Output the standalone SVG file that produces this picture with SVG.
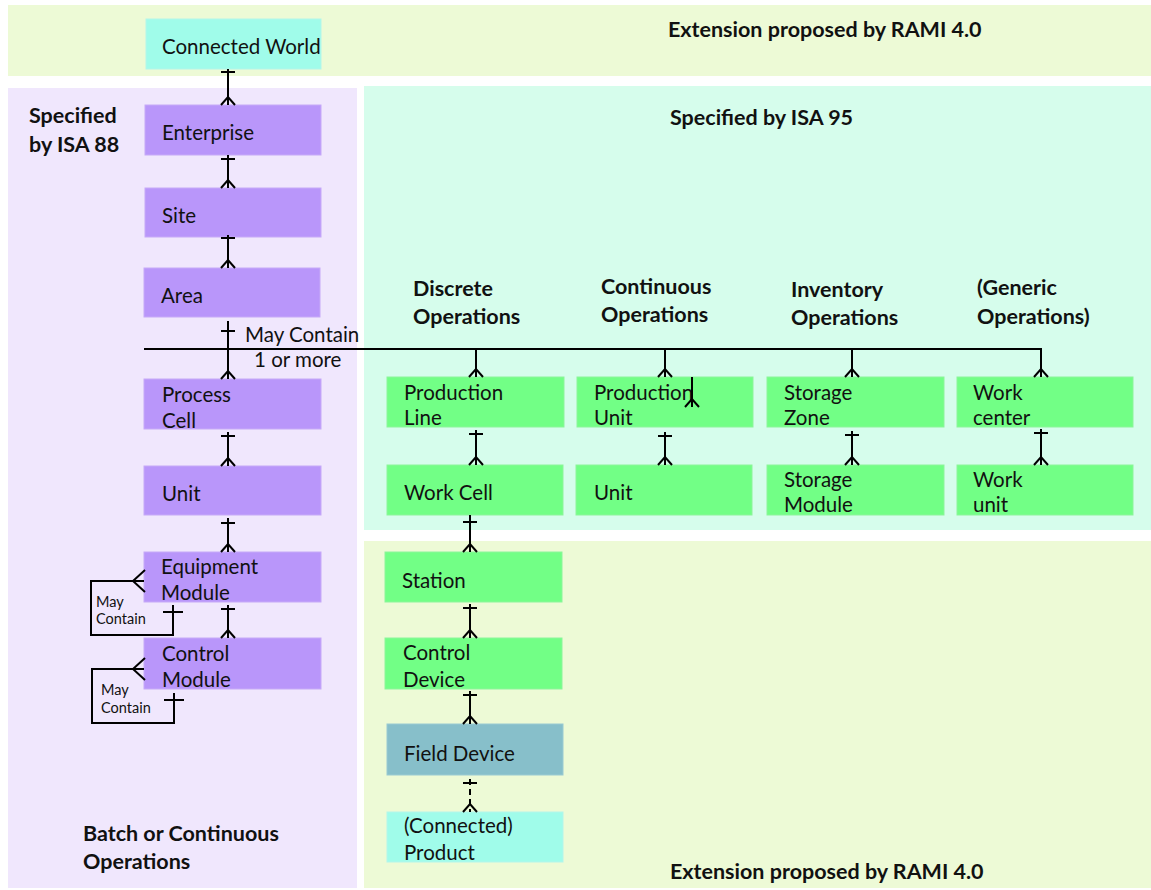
<svg xmlns="http://www.w3.org/2000/svg" width="1151" height="890" viewBox="0 0 1151 890">
  <style>
    .lbl { font-family: Lato, "Liberation Sans", sans-serif; font-size: 20.5px; fill: #111; }
    .hd { font-family: Lato, "Liberation Sans", sans-serif; font-size: 21.5px; font-weight: bold; fill: #111; }
    .sm { font-family: Lato, "Liberation Sans", sans-serif; font-size: 14.5px; fill: #111; }
    .purple { fill: #B996FA; stroke: #C6AAF8; stroke-width: 1; }
    .green { fill: #72FF86; stroke: #8CF59A; stroke-width: 1; }
    .cyan { fill: #A0FCEA; stroke: #B4F5EA; stroke-width: 1; }
    .teal { fill: #87BFCA; stroke: #9ACAD2; stroke-width: 1; }
    .ln { fill: none; stroke: #000; stroke-width: 2; }
    .dash { fill: none; stroke: #000; stroke-width: 2; stroke-dasharray: 6 4; }
  </style>
  <defs>
    <!-- crow's foot (many) opening downward, tip at y=0 -->
    <path id="foot" d="M-7,0 L0,-8 L7,0" fill="none" stroke="#000" stroke-width="2"/>
    <!-- crossbar (one) -->
    <path id="bar" d="M-7,0 H7" fill="none" stroke="#000" stroke-width="2"/>
  </defs>

  <!-- background panels -->
  <g id="panels">
    <rect x="8" y="5" width="1143" height="71" fill="#EDFAD6"/>
    <rect x="8" y="88" width="349" height="800" fill="#F0E7FD"/>
    <rect x="364" y="86" width="787" height="444" fill="#D6FDEC"/>
    <rect x="364" y="541" width="787" height="347" fill="#EDFAD6"/>
  </g>

  <!-- panel headings -->
  <g id="headings">
    <text class="hd" x="668" y="37">Extension proposed by RAMI 4.0</text>
    <text class="hd" x="670" y="125">Specified by ISA 95</text>
    <text class="hd" x="29" y="123">Specified</text>
    <text class="hd" x="29" y="152">by ISA 88</text>
    <text class="hd" x="413" y="296">Discrete</text>
    <text class="hd" x="413" y="324">Operations</text>
    <text class="hd" x="601" y="294">Continuous</text>
    <text class="hd" x="601" y="322">Operations</text>
    <text class="hd" x="791" y="297">Inventory</text>
    <text class="hd" x="791" y="325">Operations</text>
    <text class="hd" x="977" y="295">(Generic</text>
    <text class="hd" x="977" y="324">Operations)</text>
    <text class="hd" x="83" y="841">Batch or Continuous</text>
    <text class="hd" x="83" y="869">Operations</text>
    <text class="hd" x="670" y="879">Extension proposed by RAMI 4.0</text>
  </g>

  <!-- ISA 88 hierarchy -->
  <g id="connected-world"><rect class="cyan" x="146" y="19" width="175" height="50"/><text class="lbl" x="162" y="54">Connected World</text></g>
  <g id="enterprise"><rect class="purple" x="145" y="105" width="176" height="50"/><text class="lbl" x="162" y="140">Enterprise</text></g>
  <g id="site"><rect class="purple" x="145" y="188" width="176" height="49"/><text class="lbl" x="162" y="223">Site</text></g>
  <g id="area"><rect class="purple" x="144" y="268" width="176" height="49"/><text class="lbl" x="161" y="303">Area</text></g>
  <g id="process-cell"><rect class="purple" x="144" y="379" width="177" height="50"/><text class="lbl" x="162" y="402">Process</text><text class="lbl" x="162" y="428">Cell</text></g>
  <g id="unit-88"><rect class="purple" x="144" y="466" width="177" height="49"/><text class="lbl" x="162" y="501">Unit</text></g>
  <g id="equipment-module"><rect class="purple" x="144" y="552" width="177" height="50"/><text class="lbl" x="161" y="574">Equipment</text><text class="lbl" x="161" y="600">Module</text></g>
  <g id="control-module"><rect class="purple" x="144" y="638" width="177" height="51"/><text class="lbl" x="162" y="661">Control</text><text class="lbl" x="162" y="687">Module</text></g>

  <!-- ISA 95 operations -->
  <g id="production-line"><rect class="green" x="387" y="377" width="177" height="50"/><text class="lbl" x="404" y="400">Production</text><text class="lbl" x="404" y="425">Line</text></g>
  <g id="production-unit"><rect class="green" x="577" y="377" width="176" height="50"/><text class="lbl" x="594" y="400">Production</text><text class="lbl" x="594" y="425">Unit</text></g>
  <g id="storage-zone"><rect class="green" x="767" y="377" width="177" height="50"/><text class="lbl" x="784" y="400">Storage</text><text class="lbl" x="784" y="425">Zone</text></g>
  <g id="work-center"><rect class="green" x="957" y="377" width="176" height="50"/><text class="lbl" x="973" y="400">Work</text><text class="lbl" x="973" y="425">center</text></g>
  <g id="work-cell"><rect class="green" x="387" y="465" width="176" height="50"/><text class="lbl" x="404" y="500">Work Cell</text></g>
  <g id="unit-95"><rect class="green" x="576" y="465" width="176" height="50"/><text class="lbl" x="594" y="500">Unit</text></g>
  <g id="storage-module"><rect class="green" x="767" y="465" width="177" height="50"/><text class="lbl" x="784" y="487">Storage</text><text class="lbl" x="784" y="512">Module</text></g>
  <g id="work-unit"><rect class="green" x="957" y="465" width="176" height="50"/><text class="lbl" x="973" y="487">Work</text><text class="lbl" x="973" y="512">unit</text></g>

  <!-- RAMI 4.0 extension -->
  <g id="station"><rect class="green" x="385" y="552" width="177" height="50"/><text class="lbl" x="402" y="588">Station</text></g>
  <g id="control-device"><rect class="green" x="385" y="638" width="177" height="51"/><text class="lbl" x="403" y="660">Control</text><text class="lbl" x="403" y="687">Device</text></g>
  <g id="field-device"><rect class="teal" x="387" y="724" width="176" height="51"/><text class="lbl" x="404" y="761">Field Device</text></g>
  <g id="connected-product"><rect class="cyan" x="387" y="812" width="176" height="50"/><text class="lbl" x="404" y="833">(Connected)</text><text class="lbl" x="404" y="860">Product</text></g>

  <!-- connectors -->
  <g id="connectors">
    <!-- left column -->
    <path class="ln" d="M228,69 V105"/><use href="#bar" x="228" y="72"/><use href="#foot" x="228" y="105"/>
    <path class="ln" d="M228,155 V188"/><use href="#bar" x="228" y="159"/><use href="#foot" x="228" y="188"/>
    <path class="ln" d="M228,235 V268"/><use href="#bar" x="228" y="238"/><use href="#foot" x="228" y="268"/>
    <path class="ln" d="M228,321 V379"/><use href="#bar" x="228" y="331"/><use href="#foot" x="228" y="379"/>
    <path class="ln" d="M228,432 V466"/><use href="#bar" x="228" y="436"/><use href="#foot" x="228" y="466"/>
    <path class="ln" d="M228,518 V552"/><use href="#bar" x="228" y="523"/><use href="#foot" x="228" y="552"/>
    <path class="ln" d="M228,605 V638"/><use href="#bar" x="228" y="609"/><use href="#foot" x="228" y="638"/>

    <!-- shared "may contain" bus -->
    <path class="ln" d="M144,349 H1042"/>
    <path class="ln" d="M476,349 V377"/><use href="#foot" x="476" y="377"/>
    <path class="ln" d="M665,349 V377"/><use href="#foot" x="665" y="377"/>
    <path class="ln" d="M852,349 V377"/><use href="#foot" x="852" y="377"/>
    <path class="ln" d="M1041,349 V377"/><use href="#foot" x="1041" y="377"/>
    <text class="lbl" x="245" y="342">May Contain</text>
    <text class="lbl" x="254" y="367">1 or more</text>

    <!-- stray end inside production unit -->
    <path class="ln" d="M692,377 V407"/><use href="#foot" x="692" y="407"/>

    <!-- ISA 95 pairs -->
    <path class="ln" d="M476,430 V465"/><use href="#bar" x="476" y="434"/><use href="#foot" x="476" y="465"/>
    <path class="ln" d="M665,432 V465"/><use href="#bar" x="665" y="436"/><use href="#foot" x="665" y="465"/>
    <path class="ln" d="M852,431 V465"/><use href="#bar" x="852" y="435"/><use href="#foot" x="852" y="465"/>
    <path class="ln" d="M1041,429 V465"/><use href="#bar" x="1041" y="433"/><use href="#foot" x="1041" y="465"/>

    <!-- extension chain -->
    <path class="ln" d="M470,515 V552"/><use href="#bar" x="470" y="522"/><use href="#foot" x="470" y="552"/>
    <path class="ln" d="M470,604 V638"/><use href="#bar" x="470" y="608"/><use href="#foot" x="470" y="638"/>
    <path class="ln" d="M470,691 V724"/><use href="#bar" x="470" y="695"/><use href="#foot" x="470" y="724"/>
    <path class="dash" d="M470,779 V812"/><use href="#bar" x="470" y="783"/><use href="#foot" x="470" y="812"/>

    <!-- self loops -->
    <path class="ln" d="M144,581 H91 V635 H173 V605"/>
    <path class="ln" d="M145,570 L133,581 L145,592"/>
    <path class="ln" d="M163,612 H183"/>
    <text class="sm" x="96" y="607">May</text>
    <text class="sm" x="96" y="624">Contain</text>

    <path class="ln" d="M144,669 H92 V723 H174 V693"/>
    <path class="ln" d="M145,658 L133,669 L145,680"/>
    <path class="ln" d="M164,700 H184"/>
    <text class="sm" x="101" y="695">May</text>
    <text class="sm" x="101" y="713">Contain</text>
  </g>
</svg>
